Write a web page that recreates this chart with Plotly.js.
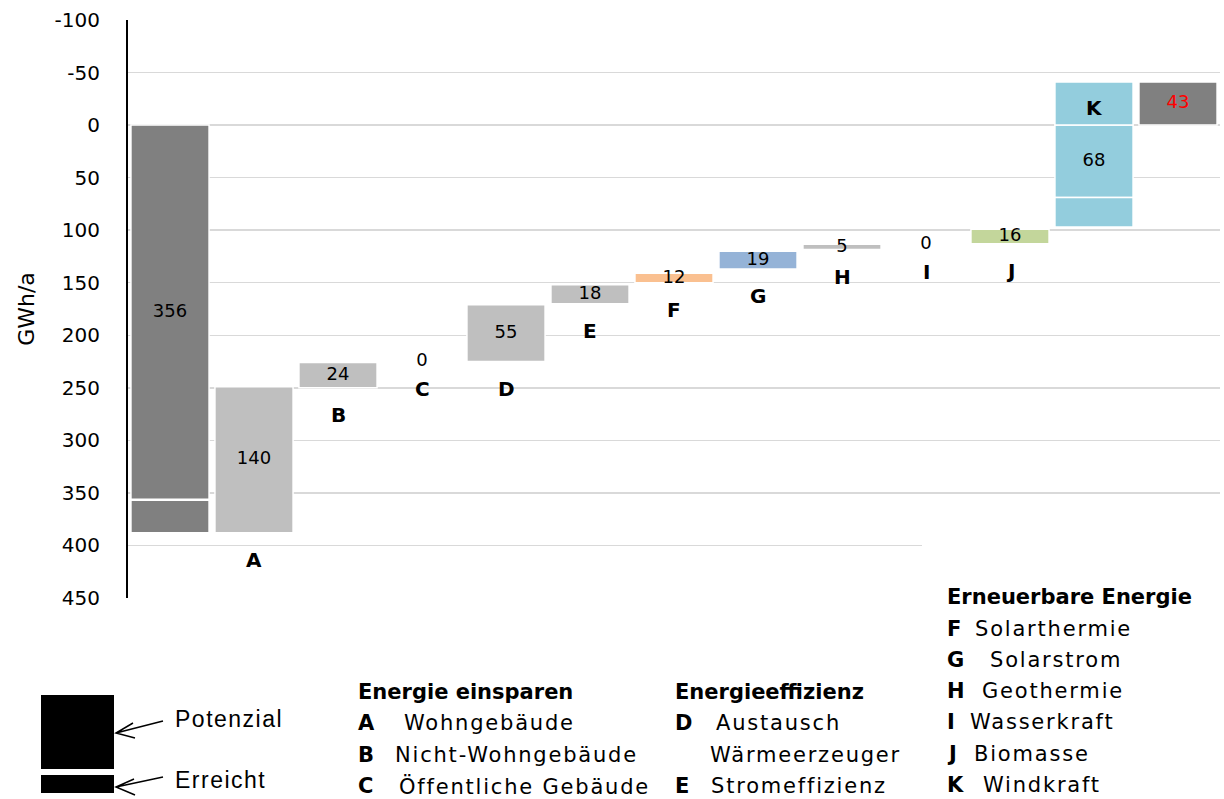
<!DOCTYPE html>
<html><head><meta charset="utf-8">
<script src="https://cdn.plot.ly/plotly-3.0.1.min.js"></script>
<style>html,body{margin:0;padding:0;background:#fff;} #chart{width:1224px;height:799px;}</style>
</head><body><div id="chart"></div>
<script>
// ---- data ----
const categories  = ['Start','A','B','C','D','E','F','G','H','I','J','K','End'];
const segTop      = [0, 249, 226, 225, 171, 152, 141, 120, 113.5, 114, 99, 0, -41];
const segBottom   = [356, 388, 250, 225, 225, 170, 150, 137, 118.5, 114, 113, 69, 0];
const valueLabels = ['356','140','24','0','55','18','12','19','5','0','16','68','43'];
const barLetters  = ['', 'A','B','C','D','E','F','G','H','I','J','',''];
const extraCategories = ['Start','K','K'];
const extraTop    = [357, -41, 69];
const extraBottom = [388, 0, 97];
const yTicks      = [-100,-50,0,50,100,150,200,250,300,350,400,450];

const legendGroups = [
  {title:'Energie einsparen', letters:['A','B','C'], texts:['Wohngebäude','Nicht-Wohngebäude','Öffentliche Gebäude']},
  {title:'Energieeffizienz', letters:['D','','E'], texts:['Austausch','Wärmeerzeuger','Stromeffizienz']},
  {title:'Erneuerbare Energie', letters:['F','G','H','I','J','K'], texts:['Solarthermie','Solarstrom','Geothermie','Wasserkraft','Biomasse','Windkraft']}
];

// ---- style ----
const barColors = ['#808080','#bfbfbf','#bfbfbf','#bfbfbf','#bfbfbf','#bfbfbf','#fac090','#95b3d7','#bfbfbf','#bfbfbf','#c3d69b','#93cddd','#808080'];
const extraColors = ['#808080','#93cddd','#93cddd'];
const labelColors = valueLabels.map((v,i)=> i===categories.length-1 ? '#ff0000' : '#000000');
const FONT = 'DejaVu Sans';

// pixel -> paper helpers (plot area: x 128..1220, y 20..598)
const L=128, R=4, T=20, B=201, W=1224, H=799;
const PW=W-L-R, PH=H-T-B;
const px = x => (x-L)/PW;
const py = y => (H-B-y)/PH;

const mainBars = {
  type:'bar', x:categories, base:segTop,
  y:segBottom.map((b,i)=>b-segTop[i]),
  marker:{color:barColors, line:{color:'#ffffff', width:1.5}},
  hoverinfo:'skip'
};
const extraBars = {
  type:'bar', x:extraCategories, base:extraTop,
  y:extraBottom.map((b,i)=>b-extraTop[i]),
  marker:{color:extraColors, line:{color:'#ffffff', width:1.5}},
  hoverinfo:'skip'
};
const labels = {
  type:'scatter', mode:'text', x:categories,
  y:segTop.map((t,i)=>(t+segBottom[i])/2),
  text:valueLabels, textposition:'middle center',
  textfont:{family:FONT, size:18, color:labelColors},
  cliponaxis:false, hoverinfo:'skip'
};

const annotations = [];
categories.forEach((c,i)=>{
  if(!barLetters[i]) return;
  annotations.push({x:c, y:segBottom[i], xref:'x', yref:'y', text:'<b>'+barLetters[i]+'</b>',
    showarrow:false, yanchor:'middle', xanchor:'center', yshift:-27,
    font:{family:FONT, size:20, color:'#000'}});
});
// K letter inside the top K segment
annotations.push({x:extraCategories[1], y:(extraTop[1]+extraBottom[1])/2, xref:'x', yref:'y',
  text:'<b>K</b>', showarrow:false, yshift:-4, font:{family:FONT, size:20, color:'#000'}});

function pa(x,y,text,size,extra){
  return Object.assign({xref:'paper', yref:'paper', x:px(x), y:py(y), xanchor:'left', yanchor:'middle',
    text:text, showarrow:false, font:{family:FONT, size:size, color:'#000'}}, extra||{});
}
const sp = t => '<span style="letter-spacing:1.8px">'+t+'</span>';

const g1=legendGroups[0], g2=legendGroups[1], g3=legendGroups[2];
annotations.push(pa(356,692,'<b>'+g1.title+'</b>',21));
[[723,402],[755,393],[786,397]].forEach((p,i)=>{
  annotations.push(pa(356,p[0],'<b>'+g1.letters[i]+'</b>',21));
  annotations.push(pa(p[1],p[0],sp(g1.texts[i]),21));
});
annotations.push(pa(673,692,'<b>'+g2.title+'</b>',21));
[[723,714],[755,708],[786,709]].forEach((p,i)=>{
  if(g2.letters[i]) annotations.push(pa(673,p[0],'<b>'+g2.letters[i]+'</b>',21));
  annotations.push(pa(p[1],p[0],sp(g2.texts[i]),21));
});
annotations.push(pa(945,597,'<b>'+g3.title+'</b>',21));
[[629,973],[660,988],[691,980],[722,968],[754,972],[785,981]].forEach((p,i)=>{
  annotations.push(pa(945,p[0],'<b>'+g3.letters[i]+'</b>',21));
  annotations.push(pa(p[1],p[0],sp(g3.texts[i]),21));
});
// Potenzial / Erreicht key
annotations.push(pa(173,719,'<span style="letter-spacing:1.5px">Potenzial</span>',23,{font:{family:'Liberation Sans',size:23,color:'#000'}}));
annotations.push(pa(173,780,'<span style="letter-spacing:1.5px">Erreicht</span>',23,{font:{family:'Liberation Sans',size:23,color:'#000'}}));

function path(pts){ return pts.map(s=>s.map((p,j)=>(j?'L':'M')+px(p[0])+','+py(p[1])).join(' ')).join(' '); }
const shapes = [
  {type:'rect', xref:'paper', yref:'paper', x0:px(922), x1:px(1224), y0:py(532), y1:py(612), fillcolor:'#fff', line:{width:0}, layer:'above'},
  {type:'rect', xref:'paper', yref:'paper', x0:px(41), x1:px(114), y0:py(695), y1:py(769), fillcolor:'#000', line:{width:0}},
  {type:'rect', xref:'paper', yref:'paper', x0:px(41), x1:px(114), y0:py(775), y1:py(793), fillcolor:'#000', line:{width:0}},
  {type:'path', xref:'paper', yref:'paper', path:path([[[163,721],[116,733]],[[133,723],[116,733],[135,738]]]), line:{color:'#000', width:1.5}},
  {type:'path', xref:'paper', yref:'paper', path:path([[[163,777],[116,787]],[[134,779],[116,787],[135,795]]]), line:{color:'#000', width:1.5}}
];

const layout = {
  width:W, height:H,
  margin:{l:L, r:R, t:T, b:B},
  paper_bgcolor:'#fff', plot_bgcolor:'#fff',
  showlegend:false, barmode:'overlay', bargap:0.07,
  font:{family:FONT, color:'#000'},
  xaxis:{type:'category', categoryorder:'array', categoryarray:categories, range:[-0.5,12.5],
    showticklabels:false, showgrid:false, zeroline:false, showline:false, fixedrange:true},
  yaxis:{range:[450,-100], tickvals:yTicks, ticktext:yTicks.map(String),
    showgrid:true, gridcolor:'#d9d9d9', gridwidth:1.5, zeroline:false,
    showline:true, linecolor:'#000', linewidth:2, ticks:'', ticklabelstandoff:22,
    tickfont:{family:FONT, size:20, color:'#000'},
    title:{text:'GWh/a', font:{family:FONT, size:22, color:'#000'}, standoff:14}, fixedrange:true},
  annotations:annotations, shapes:shapes
};

Plotly.newPlot('chart',[mainBars, extraBars, labels], layout, {displayModeBar:false, staticPlot:true});
</script></body></html>
